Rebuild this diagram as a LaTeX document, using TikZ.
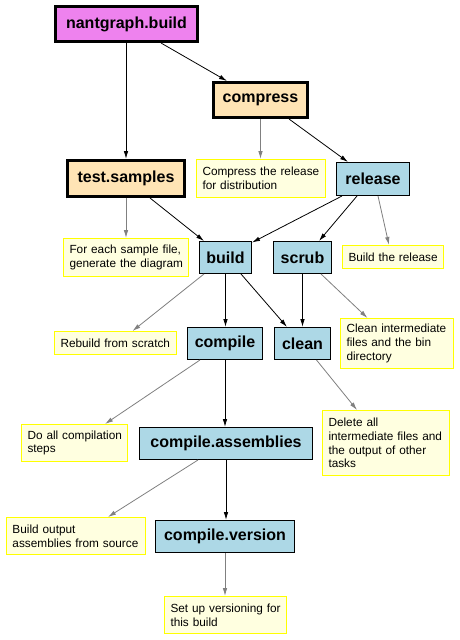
\documentclass[tikz,border=0pt]{standalone}
\usepackage{fontspec}
\setmainfont{Liberation Sans}
\usetikzlibrary{arrows.meta}
\definecolor{cviolet}{HTML}{EE82EE}
\definecolor{cmocc}{HTML}{FFE4B5}
\definecolor{cblue}{HTML}{ADD8E6}
\definecolor{cnote}{HTML}{FFFFE0}
\definecolor{cnoteb}{HTML}{FFFF00}
\definecolor{cgrey}{HTML}{808080}
\newcommand{\noteline}[1]{\mbox{#1}}
\begin{document}
\begin{tikzpicture}[x=1pt,y=-1pt,
  task/.style={draw=black,line width=1pt,fill=cblue,inner sep=0pt,
    font=\fontsize{16}{18}\selectfont\bfseries,text=black},
  maintask/.style={task,line width=3pt},
  notebox/.style={draw=cnoteb,line width=1pt,fill=cnote,inner ysep=0pt,inner xsep=6pt,
    align=left,font=\fontsize{11.8}{13.8}\selectfont,text=black},
  dep/.style={draw=black,line width=0.8pt,-{Latex[length=8pt,width=4.5pt]}},
  desc/.style={draw=cgrey,line width=0.8pt,-{Latex[length=8pt,width=4.5pt]}}]
\fill[white] (0,0) rectangle (459,640);
\useasboundingbox (0,0) rectangle (459,640);
% tasks
\node[maintask,fill=cviolet,minimum width=142pt,minimum height=35pt] (nb) at (126.5,24) {nantgraph.build};
\node[maintask,fill=cmocc,minimum width=94pt,minimum height=35pt] (cp) at (260.5,100) {compress};
\node[maintask,fill=cmocc,minimum width=117pt,minimum height=36pt] (ts) at (126,178.5) {test.samples};
\node[task,minimum width=73pt,minimum height=33pt] (rel) at (373,179) {release};
\node[task,minimum width=52pt,minimum height=32pt] (bd) at (225.5,257.5) {build};
\node[task,minimum width=58pt,minimum height=32pt] (sc) at (302.5,257.5) {scrub};
\node[task,minimum width=75pt,minimum height=32pt] (co) at (225,343.5) {compile};
\node[task,minimum width=56pt,minimum height=32pt] (cl) at (302.5,343.5) {clean};
\node[task,minimum width=173pt,minimum height=32pt] (ca) at (226,443.5) {compile.assemblies};
\node[task,minimum width=139pt,minimum height=32pt] (cv) at (225,536.5) {compile.version};
% notes
\node[notebox,text width=117pt,minimum height=38pt] (cpn) at (261,178.5) {\noteline{Compress the release}\\\noteline{for distribution}};
\node[notebox,text width=113pt,minimum height=38pt] (tsn) at (126,257.5) {\noteline{For each sample file,}\\\noteline{generate the diagram}};
\node[notebox,text width=89pt,minimum height=23pt] (reln) at (393,257) {\noteline{Build the release}};
\node[notebox,text width=110pt,minimum height=23pt] (bdn) at (115.5,343) {\noteline{Rebuild from scratch}};
\node[notebox,text width=101pt,minimum height=50pt] (scn) at (397,343.5) {\noteline{Clean intermediate}\\\noteline{files and the bin}\\\noteline{directory}};
\node[notebox,text width=115pt,minimum height=65pt] (cln) at (386,443) {\noteline{Delete all}\\\noteline{intermediate files and}\\\noteline{the output of other}\\\noteline{tasks}};
\node[notebox,text width=94pt,minimum height=37pt] (con) at (74.5,443) {\noteline{Do all compilation}\\\noteline{steps}};
\node[notebox,text width=127pt,minimum height=37pt] (can) at (76,536) {\noteline{Build output}\\\noteline{assemblies from source}};
\node[notebox,text width=110pt,minimum height=37pt] (cvn) at (225.5,615) {\noteline{Set up versioning for}\\\noteline{this build}};
% dependencies
\draw[dep] ([xshift=-0.5pt]nb.south) -- (ts.north);
\draw[dep] ([xshift=34.5pt]nb.south) -- ([xshift=-33.5pt]cp.north);
\draw[dep] ([xshift=28.5pt]cp.south) -- ([xshift=-25pt]rel.north);
\draw[dep] ([xshift=24pt]ts.south) -- ([xshift=-21.5pt]bd.north);
\draw[dep] ([xshift=-31pt]rel.south) -- ([yshift=-1.5pt]bd.north east);
\draw[dep] ([xshift=-16pt]rel.south) -- ([xshift=16.5pt]sc.north);
\draw[dep] (bd.south) -- (bd.south |- co.north);
\draw[dep] ([xshift=15.5pt]bd.south) -- ([xshift=-15.5pt]cl.north);
\draw[dep] (sc.south) -- (sc.south |- cl.north);
\draw[dep] (co.south) -- (co.south |- ca.north);
\draw[dep] (ca.south) -- (ca.south |- cv.north);
% descriptions
\draw[desc] (cp.south) -- (cp.south |- cpn.north);
\draw[desc] (ts.south) -- (ts.south |- tsn.north);
\draw[desc] ([xshift=5pt]rel.south) -- ([xshift=-4pt]reln.north);
\draw[desc] ([xshift=-21.5pt]bd.south) -- ([xshift=17pt]bdn.north);
\draw[desc] ([xshift=18.5pt]sc.south) -- ([xshift=-29.5pt]scn.north);
\draw[desc] ([xshift=-25pt]co.south) -- ([xshift=30.5pt]con.north);
\draw[desc] ([xshift=14pt]cl.south) -- ([xshift=-29pt]cln.north);
\draw[desc] ([xshift=-28pt]ca.south) -- ([xshift=32pt]can.north);
\draw[desc] (cv.south) -- (cv.south |- cvn.north);
\end{tikzpicture}
\end{document}
